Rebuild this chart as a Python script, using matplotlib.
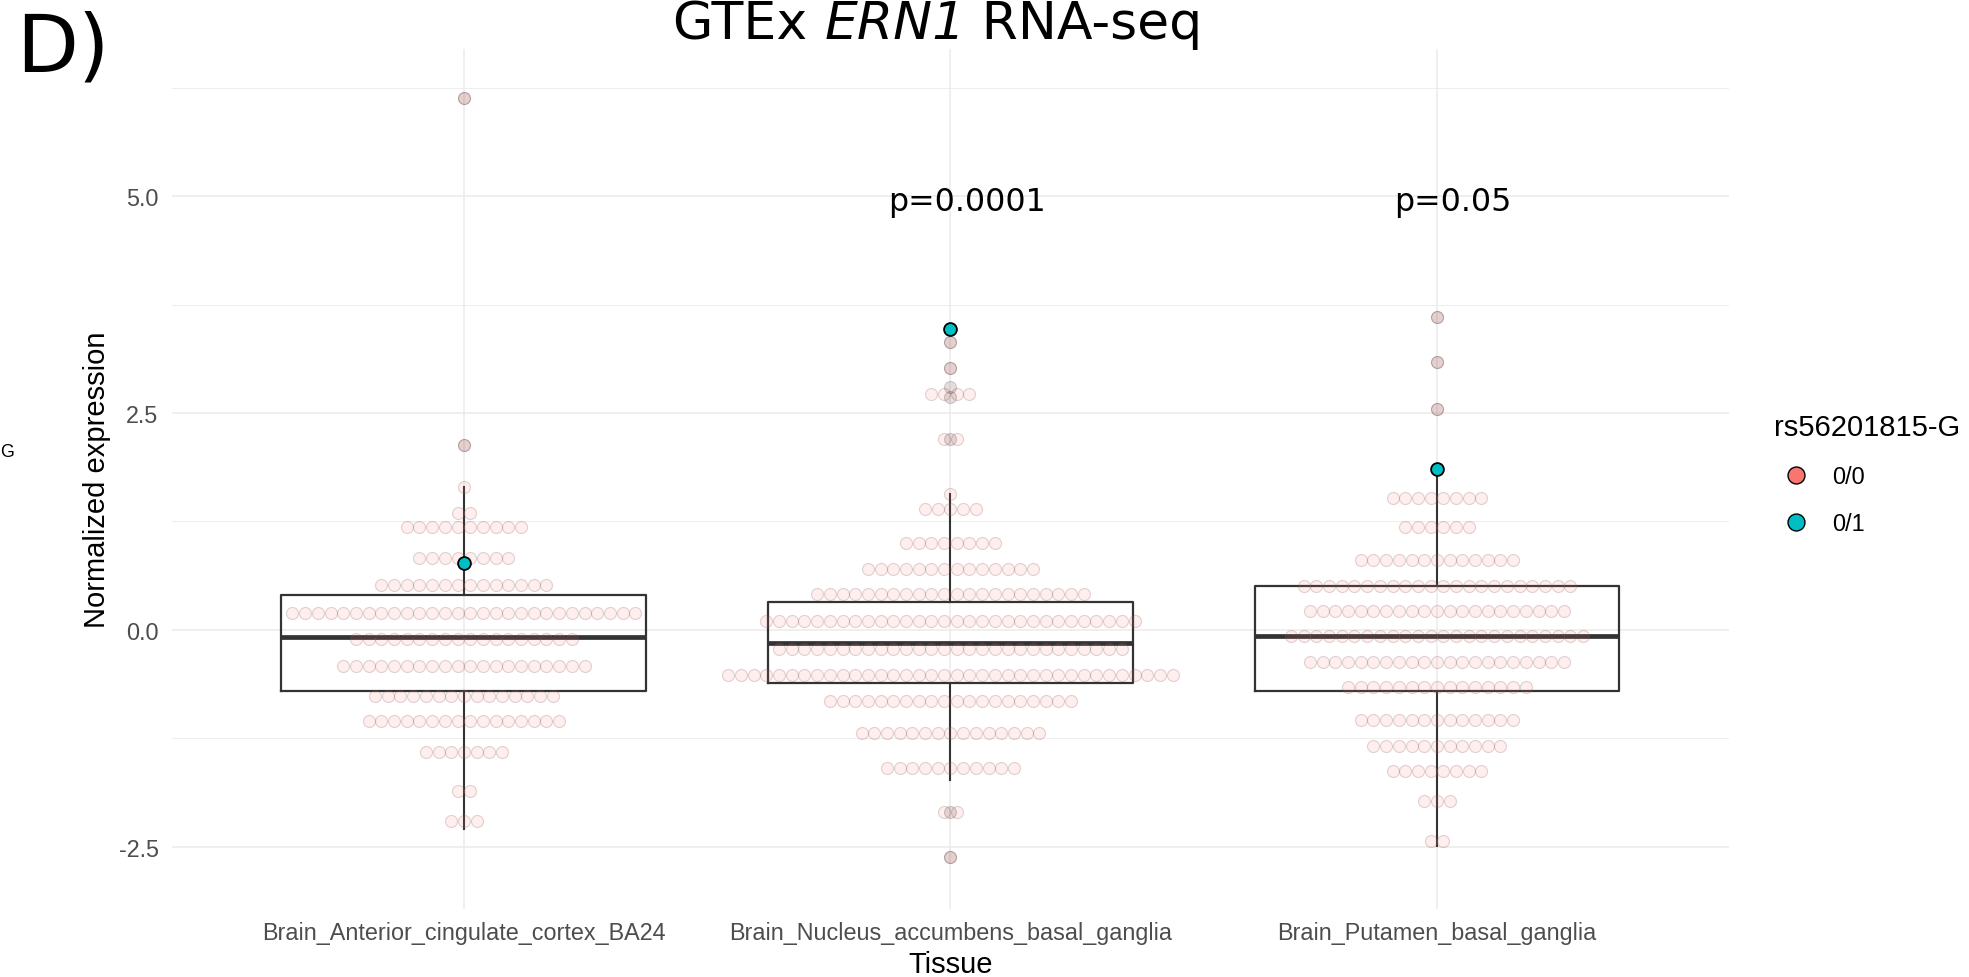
import matplotlib.pyplot as plt
import numpy as np
from matplotlib.lines import Line2D

plt.rcParams['font.family'] = ['Liberation Sans', 'DejaVu Sans']

tissues = ['Brain_Anterior_cingulate_cortex_BA24',
           'Brain_Nucleus_accumbens_basal_ganglia',
           'Brain_Putamen_basal_ganglia']

# dotplot bins (normalized expression) and how many 0/0 samples stack in each
bins_cortex = [6.14, 2.13, 1.65, 1.35, 1.19, 0.83, 0.52, 0.20, -0.10, -0.42,
               -0.76, -1.05, -1.41, -1.86, -2.21]
counts_cortex = [1, 1, 1, 2, 10, 8, 14, 28, 18, 20, 15, 16, 7, 2, 3]

bins_accumbens = [3.32, 3.02, 2.72, 2.20, 1.57, 1.39, 1.00, 0.70, 0.41, 0.10,
                  -0.22, -0.52, -0.82, -1.19, -1.59, -2.10, -2.62]
counts_accumbens = [1, 1, 4, 2, 1, 5, 8, 14, 22, 30, 28, 36, 20, 15, 11, 2, 1]

bins_putamen = [3.61, 3.09, 2.55, 1.52, 1.19, 0.81, 0.51, 0.22, -0.07, -0.37,
                -0.66, -1.04, -1.34, -1.63, -1.98, -2.43]
counts_putamen = [1, 1, 1, 8, 6, 13, 22, 21, 24, 21, 15, 13, 11, 8, 3, 2]

# boxplot outliers
out_cortex = [6.14, 2.13]
out_accumbens = [3.32, 3.02, 2.80, 2.69, 2.20, -2.10, -2.62]
out_putamen = [3.61, 3.09, 2.55]

# 0/1 carriers, one per tissue
het_expr = [0.77, 3.47, 1.86]

# box statistics
q1 = [-0.70, -0.61, -0.71]
med = [-0.085, -0.15, -0.07]
q3 = [0.40, 0.32, 0.51]
whis_lo = [-2.30, -1.73, -2.49]
whis_hi = [1.65, 1.57, 1.86]

pvals = ['', 'p=0.0001', 'p=0.05']

fig = plt.figure(figsize=(19.69, 9.78), dpi=100)
ax = fig.add_axes([0.08735, 0.06953, 0.7907, 0.87935])

pos = np.arange(1, 4)
step = 0.0261   # horizontal spacing of stacked dots

stats = []
for i in range(3):
    stats.append(dict(med=med[i], q1=q1[i], q3=q3[i],
                      whislo=whis_lo[i], whishi=whis_hi[i], label=tissues[i]))
ax.bxp(stats, positions=pos, widths=0.75, showfliers=False, showcaps=False,
       manage_ticks=False,
       boxprops=dict(color='#333333', lw=1.6),
       whiskerprops=dict(color='#333333', lw=1.5),
       medianprops=dict(color='#333333', lw=3.4, solid_capstyle='butt'),
       zorder=2)

all_bins = [bins_cortex, bins_accumbens, bins_putamen]
all_counts = [counts_cortex, counts_accumbens, counts_putamen]
all_out = [out_cortex, out_accumbens, out_putamen]

for i in range(3):
    xs, ys = [], []
    for v, n in zip(all_bins[i], all_counts[i]):
        off = (np.arange(n) - (n - 1) / 2) * step
        xs.extend(pos[i] + off)
        ys.extend([v] * n)
    ax.scatter(xs, ys, s=75, facecolor=(0.973, 0.463, 0.427, 0.12),
               edgecolor=(0.55, 0.35, 0.35, 0.25), linewidths=0.8, zorder=3)
    ax.scatter([pos[i]] * len(all_out[i]), all_out[i], s=75,
               facecolor=(0.25, 0.12, 0.12, 0.14),
               edgecolor=(0.25, 0.12, 0.12, 0.2), linewidths=0.8, zorder=3.5)

ax.scatter(pos, het_expr, s=85, facecolor='#00BFC4', edgecolor='black',
           linewidths=1.3, zorder=5)

for i in range(3):
    if pvals[i]:
        ax.text(pos[i] + 0.033, 4.845, pvals[i], ha='center', va='baseline',
                fontsize=22.8, family='DejaVu Sans')

ax.set_xlim(0.4, 3.6)
ax.set_ylim(-3.22, 6.70)
ax.set_xticks(pos)
ax.set_xticklabels(tissues)
ax.set_yticks([-2.5, 0, 2.5, 5.0])
ax.set_yticklabels(['-2.5', '0.0', '2.5', '5.0'])
ax.set_yticks([-1.25, 1.25, 3.75, 6.25], minor=True)
ax.tick_params(axis='both', which='both', length=0, labelsize=16.8,
               labelcolor='#4D4D4D')
ax.tick_params(axis='x', pad=9)
ax.tick_params(axis='y', pad=9.7)
ax.grid(which='major', color='#EBEBEB', lw=1.1, zorder=0)
ax.grid(which='minor', axis='y', color='#EBEBEB', lw=0.6, zorder=0)
ax.set_axisbelow(True)
for s in ax.spines.values():
    s.set_visible(False)

ax.set_xlabel('Tissue', fontsize=21, va='baseline')
ax.xaxis.set_label_coords(0.5, -0.0733)
ax.set_ylabel('Normalized expression', fontsize=21, va='baseline')
ax.yaxis.set_label_coords(-0.043, 0.5)

handles = [Line2D([], [], marker='o', ls='', markersize=12.2,
                  markerfacecolor='#F8766D', markeredgecolor='black',
                  markeredgewidth=1.0),
           Line2D([], [], marker='o', ls='', markersize=12.2,
                  markerfacecolor='#00BFC4', markeredgecolor='black',
                  markeredgewidth=1.0)]
fig.legend(handles, ['0/0', '0/1'], title='rs56201815-G', loc='upper left',
           bbox_to_anchor=(1773.5 / 1969, 1 - 414 / 978), frameon=False,
           fontsize=16.8, title_fontsize=21, alignment='left',
           handlelength=1.9, handletextpad=0.6, labelspacing=1.03,
           borderpad=0, borderaxespad=0)

# title with the gene name in italics, pieces laid out side by side
title_parts = ['GTEx ', 'ERN1', ' RNA-seq']
title_styles = ['normal', 'italic', 'normal']
pieces = [fig.text(0, 1 - 39 / 978, p, style=st, fontsize=37.5,
                   family='DejaVu Sans', va='baseline', ha='left')
          for p, st in zip(title_parts, title_styles)]
renderer = fig.canvas.get_renderer()
widths = [t.get_window_extent(renderer).width for t in pieces]
x0 = 938 - sum(widths) / 2
for t, w in zip(pieces, widths):
    t.set_x(x0 / 1969)
    x0 += w

fig.text(16 / 1969, 1 - 72 / 978, 'D)', ha='left', va='baseline',
         fontsize=58, family='DejaVu Sans')
fig.text(0, 1 - 453 / 978, 'G', ha='left', va='center', fontsize=12.8)

fig.savefig('out.png', dpi=100)
